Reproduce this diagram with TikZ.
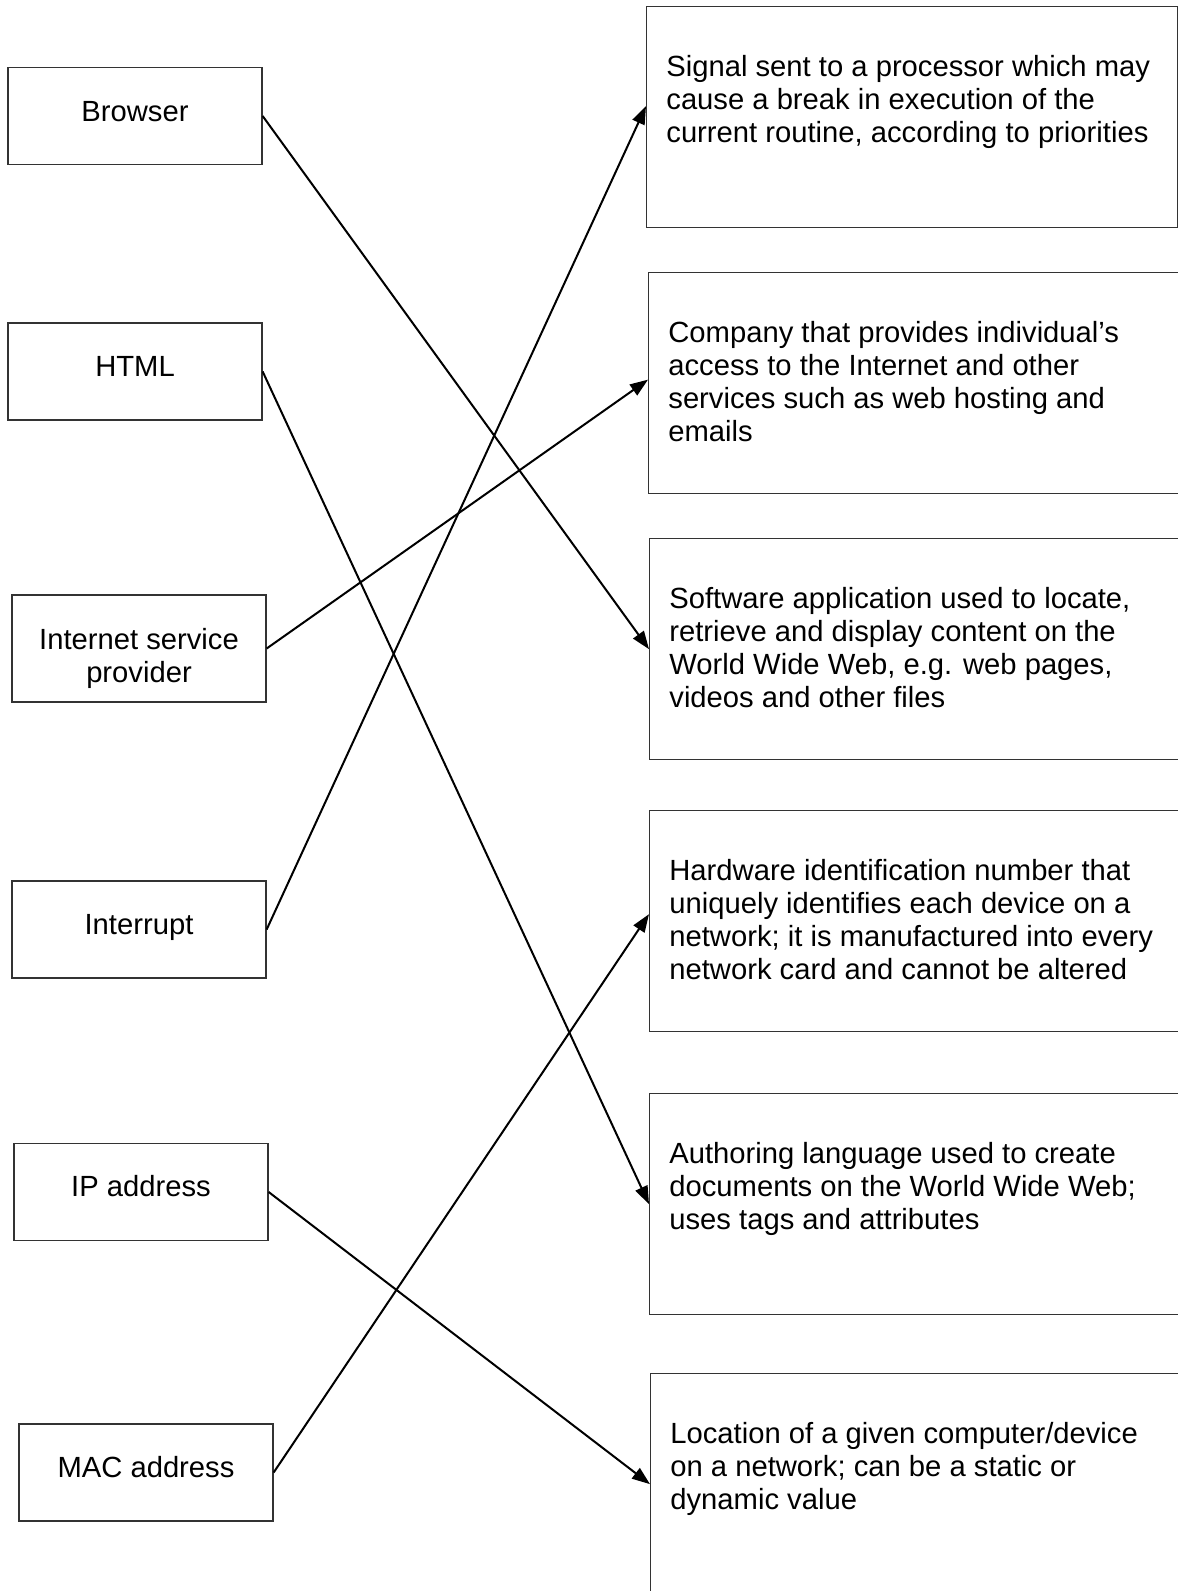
\documentclass[tikz,border=0pt]{standalone}
\usepackage{fontspec}
\setmainfont{Liberation Sans}
\usetikzlibrary{arrows.meta}
\usetikzlibrary{positioning}
\tikzset{
    box_node/.style = {rectangle, draw=black!80, line width=0.65pt, inner sep=0pt},
    term_box/.style = {box_node, minimum width=127pt, minimum height=48.5pt},
    term_text/.style = {align=center, inner sep=0pt, font=\fontsize{14.6}{16.6}\selectfont},
    def_node/.style = {box_node, anchor=north west, minimum width=270pt, minimum height=110.5pt},
    def_text/.style = {align=left, inner sep=0pt, anchor=north west, font=\fontsize{14.6}{16.6}\selectfont},
    match_arrow/.style = {-{Triangle[length=9pt, width=6.5pt]}, line width=1pt, black}
}

\begin{document}
\begin{tikzpicture}[x=0.5pt, y=-0.5pt]
    \useasboundingbox (0,0) rectangle (1178,1591);

    % terms
    \node [term_box] (browser) at (135,116) {};
    \node [term_text] (browser_text) at ([yshift=2pt]browser.center) {Browser};
    \node [term_box] (html) at (135,371.5) {};
    \node [term_text] (html_text) at ([yshift=2.5pt]html.center) {HTML};
    \node [term_box, minimum height=53.5pt] (isp) at (139,648.5) {};
    \node [term_text] (isp_text) at ([yshift=-4.8pt]isp.center) {Internet service\\provider};
    \node [term_box] (interrupt) at (139,929.5) {};
    \node [term_text] (interrupt_text) at ([yshift=1pt]interrupt.center) {Interrupt};
    \node [term_box] (ip) at (141,1192) {};
    \node [term_text] (ip_text) at ([yshift=2.75pt]ip.center) {IP address};
    \node [term_box] (mac) at (146,1472.5) {};
    \node [term_text] (mac_text) at ([yshift=2.5pt]mac.center) {MAC address};

    % definitions
    \node [def_node, minimum width=265.5pt] (d_interrupt) at (646,6) {};
    \node [def_text, below right=24.25pt and 10pt of d_interrupt.north west] (d_interrupt_text)
        {Signal sent to a processor which may\\cause a break in execution of the\\current routine, according to priorities};
    \node [def_node] (d_isp) at (648,272) {};
    \node [def_text, below right=24.25pt and 10pt of d_isp.north west] (d_isp_text)
        {Company that provides individual’s\\access to the Internet and other\\services such as web hosting and\\emails};
    \node [def_node] (d_browser) at (649,538) {};
    \node [def_text, below right=24.25pt and 10pt of d_browser.north west] (d_browser_text)
        {Software application used to locate,\\retrieve and display content on the\\World Wide Web, e.g. web pages,\\videos and other files};
    \node [def_node] (d_mac) at (649,810) {};
    \node [def_text, below right=24.25pt and 10pt of d_mac.north west] (d_mac_text)
        {Hardware identification number that\\uniquely identifies each device on a\\network; it is manufactured into every\\network card and cannot be altered};
    \node [def_node] (d_html) at (649,1093) {};
    \node [def_text, below right=24.25pt and 10pt of d_html.north west] (d_html_text)
        {Authoring language used to create\\documents on the World Wide Web;\\uses tags and attributes};
    \node [def_node] (d_ip) at (650,1373) {};
    \node [def_text, below right=24.25pt and 10pt of d_ip.north west] (d_ip_text)
        {Location of a given computer/device\\on a network; can be a static or\\dynamic value};

    % matches
    \draw [match_arrow] (browser.east) -- (d_browser.west);
    \draw [match_arrow] (html.east) -- (d_html.west);
    \draw [match_arrow] (isp.east) -- ([yshift=1.75pt]d_isp.west);
    \draw [match_arrow] (interrupt.east) -- ([yshift=5.5pt]d_interrupt.west);
    \draw [match_arrow] (ip.east) -- (d_ip.west);
    \draw [match_arrow] (mac.east) -- ([yshift=3.5pt]d_mac.west);
\end{tikzpicture}
\end{document}
